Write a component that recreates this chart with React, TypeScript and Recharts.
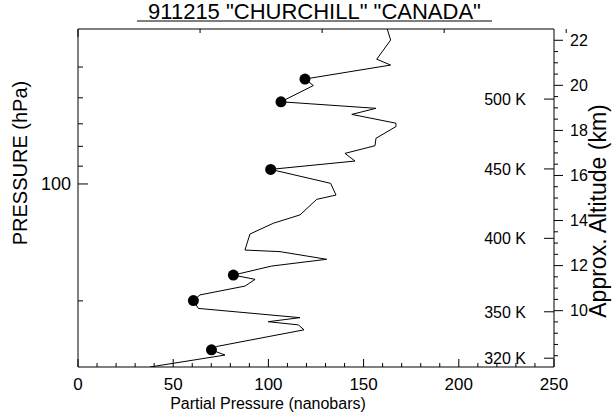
import { ComposedChart, Line, Scatter, XAxis, YAxis } from "recharts";

// ozone partial pressure profile, read top to bottom
const partialPressure = [
  162.4, 164.2, 156.9, 164.2, 119.2, 123.6, 106.6, 156.5, 143.8, 167.0,
  167.0, 156.5, 156.0, 140.2, 145.5, 101.2, 132.7, 135.5, 125.4, 116.6,
  102.6, 90.3, 87.7, 106.1, 130.6, 101.7, 81.6, 93.0, 87.7, 64.1,
  60.6, 63.2, 116.6, 99.9, 115.7, 118.7, 72.8, 70.1, 77.2, 37.8,
];
const altitudeKm = [
  22.5, 22.01, 21.16, 20.9, 20.28, 19.99, 19.27, 18.98, 18.71, 18.32,
  18.17, 17.65, 17.32, 16.98, 16.64, 16.27, 15.65, 15.13, 14.94, 14.25,
  13.88, 13.4, 12.69, 12.62, 12.28, 11.98, 11.58, 11.39, 11.09, 10.7,
  10.45, 10.1, 9.69, 9.51, 9.37, 9.15, 8.41, 8.26, 8.03, 7.5,
];

// filled markers
const samplePressure = [119.2, 106.6, 101.2, 81.6, 60.6, 70.1];
const sampleAltitude = [20.28, 19.27, 16.27, 11.58, 10.45, 8.26];

const ppTicks = [
  0, 10, 20, 30, 40, 50, 60, 70, 80, 90, 100, 110, 120, 130, 140, 150, 160,
  170, 180, 190, 200, 210, 220, 230, 240, 250,
];
const ppLabels = [0, 50, 100, 150, 200, 250];

const pressureTicks = [50, 60, 70, 80, 90, 100, 200];
const pressureLabels = [100];

const altitudeTicks = [
  8, 8.5, 9, 9.5, 10, 10.5, 11, 11.5, 12, 12.5, 13, 13.5, 14, 14.5, 15, 15.5,
  16, 16.5, 17, 17.5, 18, 18.5, 19, 19.5, 20, 20.5, 21, 21.5, 22,
];
const altitudeLabels = [10, 12, 14, 16, 18, 20, 22];

const thetaAltitude = [19.39, 16.29, 13.21, 9.95, 7.89];
const thetaLabels = ["500 K", "450 K", "400 K", "350 K", "320 K"];

const profile = partialPressure.map((pp, i) => ({ pp, alt: altitudeKm[i] }));
const samples = samplePressure.map((pp, i) => ({ pp, alt: sampleAltitude[i] }));

const font = "'Liberation Sans', Arial, Helvetica, sans-serif";

function BottomTick({ x, y, payload }: any) {
  const major = ppLabels.includes(payload.value);
  return (
    <g>
      <line x1={x} x2={x} y1={y} y2={y - (major ? 8 : 4)} stroke="#000" />
      {major && (
        <text x={x} y={y + 23} textAnchor="middle" fontSize={17} fontFamily={font} fill="#000">
          {payload.value}
        </text>
      )}
    </g>
  );
}

function TopTick({ x, y, payload }: any) {
  const major = ppLabels.includes(payload.value);
  return <line x1={x} x2={x} y1={y} y2={y + (major ? 8 : 4)} stroke="#000" />;
}

function LeftTick({ x, y, payload }: any) {
  const major = pressureLabels.includes(payload.value);
  return (
    <g>
      <line x1={x} x2={x + (major ? 10 : 5)} y1={y} y2={y} stroke="#000" />
      {major && (
        <text x={x - 7} y={y + 6.5} textAnchor="end" fontSize={18} fontFamily={font} fill="#000">
          {payload.value}
        </text>
      )}
    </g>
  );
}

function RightTick({ x, y, payload }: any) {
  const major = altitudeLabels.includes(payload.value);
  return (
    <g>
      <line x1={x} x2={x + (major ? 9 : 4)} y1={y} y2={y} stroke="#000" />
      {major && (
        <text x={x + 16} y={y + 5.8} textAnchor="start" fontSize={16} fontFamily={font} fill="#000">
          {payload.value}
        </text>
      )}
    </g>
  );
}

function ThetaTick({ x, y, index }: any) {
  return (
    <g>
      <line x1={x} x2={x - 10} y1={y} y2={y} stroke="#000" />
      <text x={x - 28} y={y + 5.8} textAnchor="end" fontSize={16} fontFamily={font} fill="#000">
        {thetaLabels[index]}
      </text>
    </g>
  );
}

function SampleDot({ cx, cy }: any) {
  return <circle cx={cx} cy={cy} r={5.5} fill="#000" />;
}

export default function App() {
  return (
    <div style={{ position: "absolute", left: 0, top: 0, width: 613, height: 417, background: "#fff" }}>
      <ComposedChart
        width={613}
        height={417}
        data={profile}
        margin={{ top: 0, right: 0, bottom: 0, left: 0 }}
      >
        <XAxis
          xAxisId="x"
          dataKey="pp"
          type="number"
          domain={[0, 250]}
          allowDataOverflow
          ticks={ppTicks}
          interval={0}
          height={50}
          tickSize={0}
          tickMargin={0}
          tickLine={false}
          axisLine={{ stroke: "#000" }}
          tick={BottomTick}
        />
        <XAxis
          xAxisId="top"
          orientation="top"
          type="number"
          domain={[0, 250]}
          allowDataOverflow
          ticks={ppTicks}
          interval={0}
          height={29}
          tickSize={0}
          tickMargin={0}
          tickLine={false}
          axisLine={{ stroke: "#000" }}
          tick={TopTick}
        />
        <YAxis
          yAxisId="p"
          orientation="left"
          type="number"
          scale="log"
          domain={[39.9, 296]}
          reversed
          allowDataOverflow
          ticks={pressureTicks}
          interval={0}
          width={78}
          tickSize={0}
          tickMargin={0}
          tickLine={false}
          axisLine={{ stroke: "#000" }}
          tick={LeftTick}
        />
        <YAxis
          yAxisId="alt"
          dataKey="alt"
          orientation="right"
          type="number"
          domain={[7.5, 22.5]}
          allowDataOverflow
          ticks={altitudeTicks}
          interval={0}
          width={59}
          tickSize={0}
          tickMargin={0}
          tickLine={false}
          axisLine={{ stroke: "#000" }}
          tick={RightTick}
        />
        <YAxis
          yAxisId="theta"
          orientation="right"
          mirror
          type="number"
          domain={[7.5, 22.5]}
          allowDataOverflow
          ticks={thetaAltitude}
          interval={0}
          width={1}
          tickSize={0}
          tickMargin={0}
          tickLine={false}
          axisLine={false}
          tick={ThetaTick}
        />
        <Line
          xAxisId="x"
          yAxisId="alt"
          dataKey="alt"
          type="linear"
          stroke="#000"
          strokeWidth={1}
          dot={false}
          isAnimationActive={false}
        />
        <Scatter
          xAxisId="x"
          yAxisId="alt"
          data={samples}
          fill="#000"
          shape={SampleDot}
          isAnimationActive={false}
        />
      </ComposedChart>
      <svg
        width={613}
        height={417}
        style={{ position: "absolute", left: 0, top: 0, pointerEvents: "none" }}
        fontFamily={font}
      >
        <text x={314.5} y={18.5} textAnchor="middle" fontSize={22} fill="#000">
          911215 "CHURCHILL" "CANADA"
        </text>
        <line x1={137} x2={492} y1={21} y2={21} stroke="#000" strokeWidth={1} />
        <text x={268} y={409} textAnchor="middle" fontSize={16} fill="#000">
          Partial Pressure (nanobars)
        </text>
        <text transform="translate(26.5,163) rotate(-90)" textAnchor="middle" fontSize={20} fill="#000">
          PRESSURE (hPa)
        </text>
        <text transform="translate(606,211) rotate(-90)" textAnchor="middle" fontSize={23} fill="#000">
          Approx. Altitude (km)
        </text>
      </svg>
    </div>
  );
}
